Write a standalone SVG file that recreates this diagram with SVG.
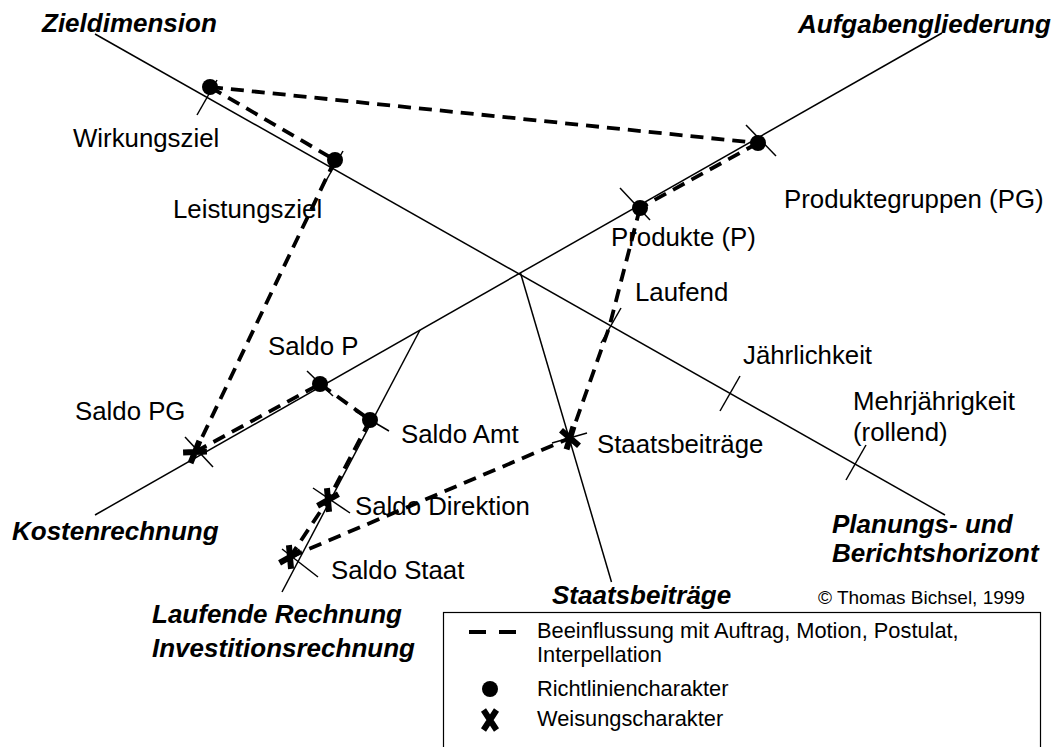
<svg xmlns="http://www.w3.org/2000/svg" width="1054" height="747" viewBox="0 0 1054 747">
<style>
.ax{stroke:#000;stroke-width:1.5;fill:none}
.tk{stroke:#000;stroke-width:1.5;fill:none}
.dash{stroke:#000;stroke-width:3.8;fill:none;stroke-dasharray:13 8}
.lb{font-family:"Liberation Sans",Arial,sans-serif;font-size:25.8px;fill:#000}
.ti{font-family:"Liberation Sans",Arial,sans-serif;font-size:26px;font-weight:bold;font-style:italic;fill:#000}
.lg{font-family:"Liberation Sans",Arial,sans-serif;font-size:21.8px;fill:#000}
.cp{font-family:"Liberation Sans",Arial,sans-serif;font-size:19px;fill:#000}
.dot{fill:#000}
</style>
<defs>
<g id="xm"><path d="M-6.5,-10 L6.5,10 M6.5,-10 L-6.5,10" stroke="#000" stroke-width="6" fill="none"/></g>
</defs>
<g id="axes">
<path class="ax" d="M95,34 L945,515"/>
<path class="ax" d="M95,515 L942,33"/>
<path class="ax" d="M420,330 L282,592"/>
<path class="ax" d="M520.5,273 L611.5,582"/>
</g>
<g id="connectors">
<path class="dash" d="M210,87 L758,143"/>
<path class="dash" d="M210,87 L335,160"/>
<path class="dash" d="M335,160 L195,452"/>
<path class="dash" d="M758,143 L640,208"/>
<path class="dash" d="M640,208 L609,328 L570,438"/>
<path class="dash" d="M195,452 L320,384"/>
<path class="dash" d="M320,384 L370,420"/>
<path class="dash" d="M370,420 L328,500 L290,557"/>
<path class="dash" d="M290,557 L570,438"/>
</g>
<g id="n-wirkungsziel"><path class="tk" d="M217,80 L197,115"/><circle class="dot" cx="210" cy="87" r="8"/><text class="lb" x="73" y="147">Wirkungsziel</text></g>
<g id="n-leistungsziel"><path class="tk" d="M343,151 L323,186"/><circle class="dot" cx="335" cy="160" r="8"/><text class="lb" x="173" y="218">Leistungsziel</text></g>
<g id="n-pg"><path class="tk" d="M746,125 L776,156"/><circle class="dot" cx="758" cy="143" r="8"/><text class="lb" x="784" y="208">Produktegruppen (PG)</text></g>
<g id="n-p"><path class="tk" d="M620,188 L650,220"/><circle class="dot" cx="640" cy="208" r="8"/><text class="lb" x="611" y="246">Produkte (P)</text></g>
<g id="n-laufend"><path class="tk" d="M621,308 L601,343"/><text class="lb" x="635" y="301">Laufend</text></g>
<g id="n-jaehrlich"><path class="tk" d="M740,376 L720,411"/><text class="lb" x="743" y="364">Jährlichkeit</text></g>
<g id="n-mehrjaehrig"><path class="tk" d="M866,445 L846,480"/><text class="lb" x="853" y="410">Mehrjährigkeit</text><text class="lb" x="853" y="441">(rollend)</text></g>
<g id="n-saldop"><path class="tk" d="M307,371 L333,396"/><circle class="dot" cx="320" cy="384" r="8"/><text class="lb" x="268" y="355">Saldo P</text></g>
<g id="n-saldoamt"><path class="tk" d="M355,411 L389,431"/><circle class="dot" cx="370" cy="420" r="8"/><text class="lb" x="401" y="443">Saldo Amt</text></g>
<g id="n-saldopg"><path class="tk" d="M185,437 L213,467"/><use href="#xm" transform="translate(195,452) rotate(55)"/><text class="lb" x="75" y="420">Saldo PG</text></g>
<g id="n-saldodir"><path class="tk" d="M313,488 L350,513"/><use href="#xm" transform="translate(328,500) rotate(28)"/><text class="lb" x="355" y="515">Saldo Direktion</text></g>
<g id="n-saldostaat"><path class="tk" d="M282,549 L318,577"/><use href="#xm" transform="translate(290,557) rotate(28)"/><text class="lb" x="331" y="579">Saldo Staat</text></g>
<g id="n-staatsb"><path class="tk" d="M552,443 L587,433"/><use href="#xm" transform="translate(570,438) rotate(-16)"/><text class="lb" x="597" y="453">Staatsbeiträge</text></g>
<g id="titles">
<text class="ti" x="42" y="32">Zieldimension</text>
<text class="ti" x="798" y="33">Aufgabengliederung</text>
<text class="ti" x="12" y="540">Kostenrechnung</text>
<text class="ti" x="832" y="533">Planungs- und</text>
<text class="ti" x="832" y="562">Berichtshorizont</text>
<text class="ti" x="152" y="623">Laufende Rechnung</text>
<text class="ti" x="152" y="657">Investitionsrechnung</text>
<text class="ti" x="552" y="604">Staatsbeiträge</text>
<text class="cp" x="818" y="604">© Thomas Bichsel, 1999</text>
</g>
<g id="legend">
<rect x="443.5" y="612.5" width="597" height="160" fill="none" stroke="#000" stroke-width="1.2"/>
<path d="M469,632 L486,632 M499,632 L516,632" stroke="#000" stroke-width="4" fill="none"/>
<text class="lg" x="537" y="638">Beeinflussung mit Auftrag, Motion, Postulat,</text>
<text class="lg" x="537" y="662">Interpellation</text>
<circle class="dot" cx="490" cy="689" r="8"/>
<text class="lg" x="537" y="696">Richtliniencharakter</text>
<use href="#xm" transform="translate(490,720)"/>
<text class="lg" x="537" y="726">Weisungscharakter</text>
</g>
</svg>
